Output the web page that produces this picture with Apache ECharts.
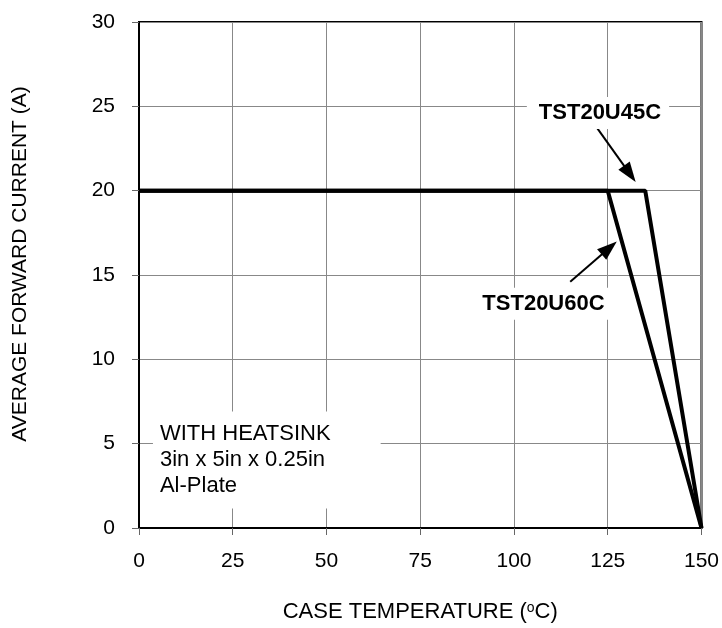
<!DOCTYPE html>
<html>
<head>
<meta charset="utf-8">
<script src="https://cdn.jsdelivr.net/npm/echarts@6/dist/echarts.min.js"></script>
<style>
html,body{margin:0;padding:0;background:#fff;}
#chart{width:722px;height:628px;}
</style>
</head>
<body>
<div id="chart"></div>
<script>
// ---- data ----
const xTicks = [0, 25, 50, 75, 100, 125, 150];
const yTicks = [0, 5, 10, 15, 20, 25, 30];
const temp45 = [0, 135, 150];
const curr45 = [20, 20, 0];
const temp60 = [0, 125, 150];
const curr60 = [20, 20, 0];
const seriesNames = ['TST20U45C', 'TST20U60C'];
// annotation anchors (data coordinates)
const label45 = [122.4, 24.6];
const label60 = [107.6, 13.3];
const arrow45 = [[121.9, 23.8], [130.9, 21.0]];
const arrow60 = [[115.0, 14.6], [125.4, 16.6]];
const noteAnchor = [3.72, 4.03];
const noteLines = ['WITH HEATSINK', '3in x 5in x 0.25in', 'Al-Plate'];

const FONT = '"Liberation Sans", Arial, Helvetica, sans-serif';

function pairs(xs, ys) { return xs.map((x, i) => [x, ys[i]]); }

const chart = echarts.init(document.getElementById('chart'), null, {renderer: 'canvas'});

const arrowMark = (seg) => ({
  silent: true,
  symbol: ['none', 'triangle'],
  symbolSize: [14, 20],
  lineStyle: {color: '#000', width: 2, type: 'solid'},
  itemStyle: {color: '#000'},
  label: {show: false},
  emphasis: {disabled: true},
  data: [[{coord: seg[0]}, {coord: seg[1]}]]
});

const textMark = (coord, text, style) => ({
  silent: true,
  symbol: 'rect',
  symbolSize: 0,
  data: [{coord: coord, value: 0}],
  label: Object.assign({
    show: true,
    position: 'inside',
    formatter: text,
    fontFamily: FONT,
    color: '#000',
    backgroundColor: '#fff'
  }, style)
});

const option = {
  animation: false,
  backgroundColor: '#fff',
  grid: {
    left: 139, right: 18, top: 22, bottom: 98,
    show: true, borderColor: '#000', borderWidth: 2, backgroundColor: 'transparent'
  },
  xAxis: {
    type: 'value',
    min: xTicks[0], max: xTicks[xTicks.length - 1], interval: xTicks[1] - xTicks[0],
    name: '{t|CASE TEMPERATURE (}{s|o}{t|C)}',
    nameLocation: 'middle',
    nameGap: 73,
    nameTextStyle: {
      rich: {
        t: {fontFamily: FONT, fontSize: 22, color: '#000'},
        s: {fontFamily: FONT, fontSize: 14, color: '#000', verticalAlign: 'top', padding: [0, 0, 8, 0]}
      }
    },
    axisLine: {show: true, lineStyle: {color: '#000', width: 2}},
    axisTick: {show: true, inside: false, length: 7, lineStyle: {color: '#666', width: 1}},
    axisLabel: {fontFamily: FONT, fontSize: 21, color: '#000', margin: 23},
    splitLine: {show: true, lineStyle: {color: '#888', width: 1}}
  },
  yAxis: {
    type: 'value',
    min: yTicks[0], max: yTicks[yTicks.length - 1], interval: yTicks[1] - yTicks[0],
    name: 'AVERAGE FORWARD CURRENT (A)',
    nameLocation: 'middle',
    nameGap: 108,
    nameTextStyle: {fontFamily: FONT, fontSize: 21, color: '#000', padding: [0, 0, 0, 22]},
    axisLine: {show: true, lineStyle: {color: '#000', width: 2}},
    axisTick: {show: true, inside: false, length: 7, lineStyle: {color: '#666', width: 1}},
    axisLabel: {fontFamily: FONT, fontSize: 21, color: '#000', margin: 24},
    splitLine: {show: true, lineStyle: {color: '#888', width: 1}}
  },
  series: [
    {
      name: 'notes',
      type: 'line',
      data: [],
      z: 3,
      markPoint: textMark(noteAnchor, noteLines.join('\n'), {
        fontSize: 22, lineHeight: 26, align: 'left', verticalAlign: 'middle',
        padding: [6, 50, 13, 7]
      })
    },
    {
      name: seriesNames[0],
      type: 'line',
      data: pairs(temp45, curr45),
      symbol: 'none',
      lineStyle: {color: '#000', width: 4},
      z: 5,
      markLine: arrowMark(arrow45),
      markPoint: textMark(label45, seriesNames[0], {
        fontSize: 22, fontWeight: 'bold', align: 'center', verticalAlign: 'middle',
        padding: [6, 8, 4, 12]
      })
    },
    {
      name: seriesNames[1],
      type: 'line',
      data: pairs(temp60, curr60),
      symbol: 'none',
      lineStyle: {color: '#000', width: 4},
      z: 5,
      markLine: arrowMark(arrow60),
      markPoint: textMark(label60, seriesNames[1], {
        fontSize: 22, fontWeight: 'bold', align: 'center', verticalAlign: 'middle',
        padding: [6, 6, 4, 8]
      })
    }
  ]
};
chart.setOption(option);
</script>
</body>
</html>
